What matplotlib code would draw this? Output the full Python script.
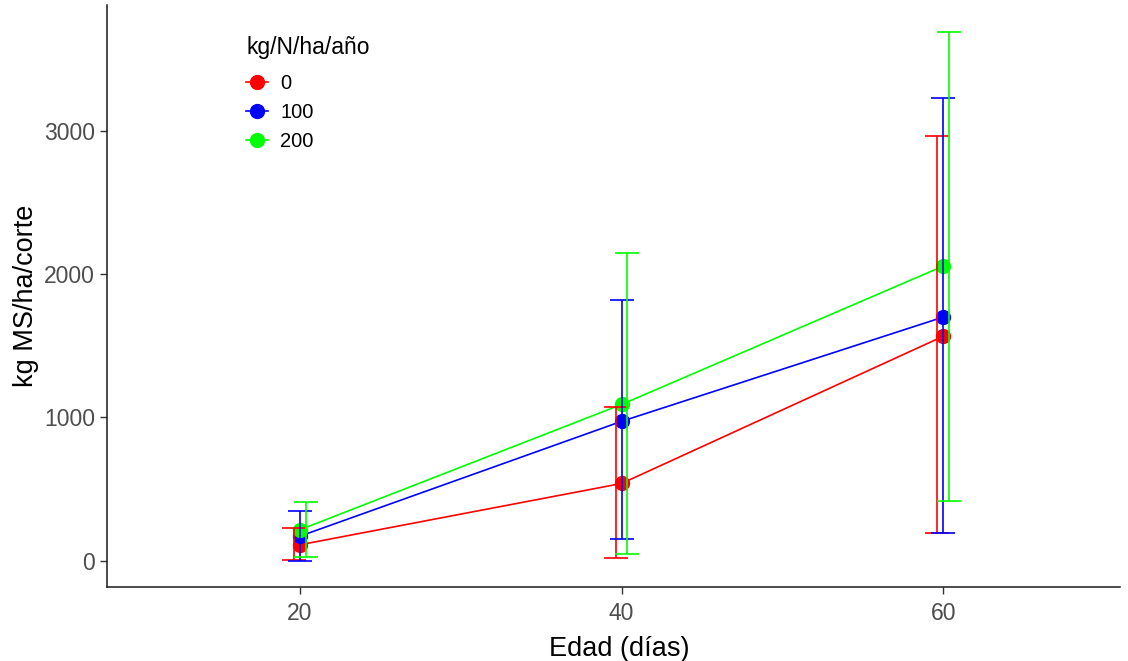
import matplotlib.pyplot as plt
from matplotlib.lines import Line2D
import numpy as np

plt.rcParams['font.family'] = ['Liberation Sans', 'DejaVu Sans']

edad = [20, 40, 60]
niveles = ['0', '100', '200']
colores = ['#FF0000', '#0000FF', '#00FF00']

# mean and error bar limits (kg MS/ha/corte)
medias = {
    '0':   [110, 538, 1566],
    '100': [170, 972, 1700],
    '200': [215, 1090, 2056],
}
sup = {
    '0':   [224, 1070, 2965],
    '100': [343, 1818, 3230],
    '200': [406, 2147, 3690],
}
inf = {
    '0':   [5, 21, 189],
    '100': [0, 147, 189],
    '200': [28, 42, 413],
}
dodge = [-0.35, 0.0, 0.35]

fig = plt.figure(figsize=(11.28, 6.61), dpi=100)
ax = fig.add_axes([107 / 1128, 1 - 587 / 661, (1120 - 107) / 1128, (587 - 5) / 661])

for k, (nivel, col) in enumerate(zip(niveles, colores)):
    x = np.array(edad)
    y = np.array(medias[nivel])
    lo = y - np.array(inf[nivel])
    hi = np.array(sup[nivel]) - y
    ax.plot(x, y, color=col, lw=1.2, zorder=2)
    ax.plot(x, y, 'o', color=col, ms=10, zorder=3)
    ax.errorbar(x + dodge[k], y, yerr=[lo, hi], fmt='none', ecolor=col,
                elinewidth=1.2, capsize=8.5, capthick=1.2, zorder=4)

ax.set_xlim(8, 71)
ax.set_ylim(-185, 3880)
ax.set_xticks(edad)
ax.set_yticks([0, 1000, 2000, 3000])
for s in ['top', 'right']:
    ax.spines[s].set_visible(False)
for s in ['left', 'bottom']:
    ax.spines[s].set_color('#1a1a1a')
    ax.spines[s].set_linewidth(1.1)
ax.tick_params(axis='both', colors='#333333', labelcolor='#4D4D4D',
               labelsize=16.5, length=5, width=1)
ax.tick_params(axis='x', pad=6)
ax.set_xlabel('Edad (días)', fontsize=19.5, color='black')
ax.set_ylabel('kg MS/ha/corte', fontsize=19.5, color='black')
ax.xaxis.set_label_coords(0.506, -0.085)
ax.yaxis.set_label_coords(-0.067, 0.5)

handles = [Line2D([], [], color=c, lw=1.2, marker='o', ms=10) for c in colores]
leg = fig.legend(handles, niveles, title='kg/N/ha/año', loc='upper left',
                 bbox_to_anchor=(236 / 1128, 1 - 26 / 661), frameon=False,
                 fontsize=14.5, title_fontsize=16.5, borderpad=0,
                 handlelength=1.1, handletextpad=0.6, labelspacing=0.48)
leg._legend_box.align = 'left'
leg._legend_box.sep = 11

fig.savefig('out.png', dpi=100)
